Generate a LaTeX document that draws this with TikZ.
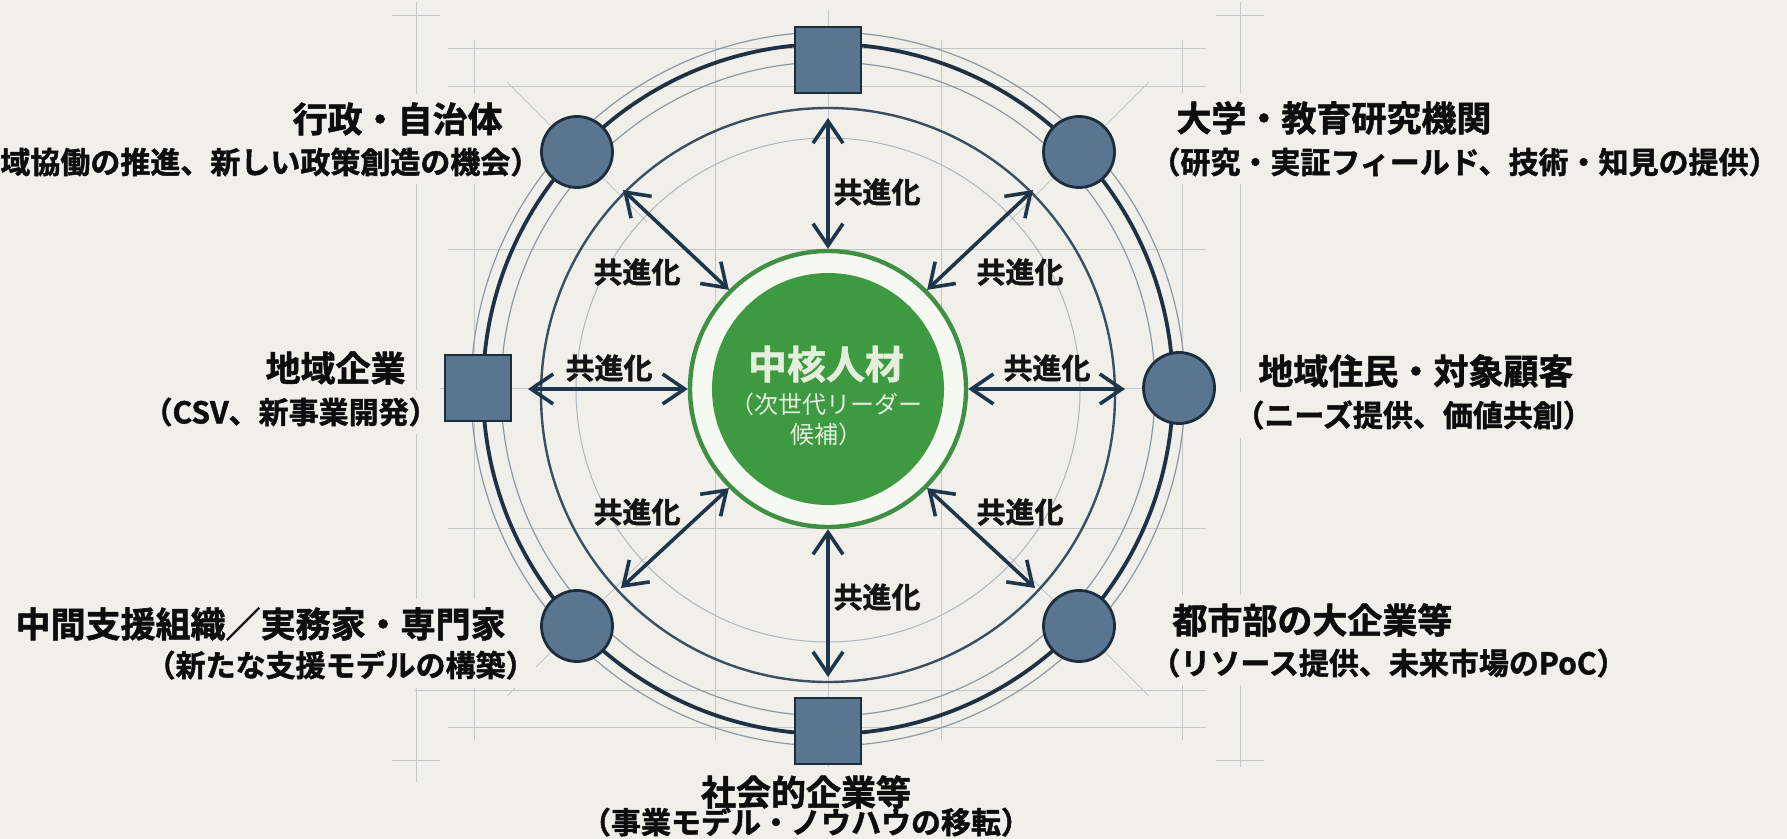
\documentclass[tikz,border=0pt]{standalone}
\usepackage{fontspec}
\setmainfont{Noto Sans CJK JP}[BoldFont={Noto Sans CJK JP Bold}, BoldFeatures={FakeBold=1.5}]
\usetikzlibrary{arrows.meta}
\definecolor{bg}{HTML}{F0EFE9}
\definecolor{gridc}{HTML}{C4C7C8}
\definecolor{ringthin}{HTML}{8C99A4}
\definecolor{ringlight}{HTML}{AEB6BC}
\definecolor{navy}{HTML}{1F3245}
\definecolor{ringdark}{HTML}{3A4F63}
\definecolor{nodefill}{HTML}{5A7590}
\definecolor{nodeedge}{HTML}{1C2D3D}
\definecolor{arrowc}{HTML}{1E364C}
\definecolor{greenfill}{HTML}{3E9A41}
\definecolor{greenring}{HTML}{3F8F45}
\definecolor{corering}{HTML}{F6F8F2}
\definecolor{coretext}{HTML}{E4EEDD}
\tikzset{
  gridline/.style={draw=gridc, line width=0.5pt},
  thinring/.style={draw=ringthin, line width=0.6pt},
  sqnode/.style={rectangle, draw=nodeedge, fill=nodefill, line width=1.4pt, minimum size=33pt, inner sep=0pt},
  cnode/.style={circle, draw=nodeedge, fill=nodefill, line width=1.4pt, minimum size=35.5pt, inner sep=0pt},
  coev/.style={draw=arrowc, line width=1.8pt, {Straight Barb[length=11pt,width=15pt]}-{Straight Barb[length=11pt,width=15pt]}},
  coevlbl/.style={font=\bfseries\fontsize{14.5}{17}\selectfont, text=black!92, inner sep=0pt},
  ttl/.style={font=\bfseries\fontsize{17.5}{21}\selectfont, text=black!95, fill=bg, inner xsep=2pt, inner ysep=4pt},
  subl/.style={font=\bfseries\fontsize{15}{18}\selectfont, text=black!95, fill=bg, inner xsep=0pt, inner ysep=4pt},
}
\begin{document}
\begin{tikzpicture}[x=0.5pt,y=-0.5pt]
\fill[bg] (0,0) rectangle (1787,839);
\useasboundingbox (0,0) rectangle (1787,839);

% construction grid
\draw[gridline] (416,2) -- (416,782);
\draw[gridline] (1240,2) -- (1240,767);
\draw[gridline] (474,40) -- (474,740);
\draw[gridline] (1182,40) -- (1182,740);
\draw[gridline] (715,40) -- (715,740);
\draw[gridline] (941,40) -- (941,740);
\draw[gridline] (828,10) -- (828,770);
\draw[gridline] (448,49) -- (1206,49);
\draw[gridline] (448,87) -- (1206,87);
\draw[gridline] (448,250) -- (1206,250);
\draw[gridline] (448,528) -- (1206,528);
\draw[gridline] (440,389) -- (1215,389);
\draw[gridline] (415,690) -- (1206,690);
\draw[gridline] (448,727) -- (1206,727);
\draw[gridline] (392,16) -- (440,16);
\draw[gridline] (1216,16) -- (1264,16);
\draw[gridline] (392,760) -- (440,760);
\draw[gridline] (1216,760) -- (1264,760);
\draw[gridline] (507,82) -- (647,222);
\draw[gridline] (1149,82) -- (1009,222);
\draw[gridline] (507,696) -- (647,556);
\draw[gridline] (1149,696) -- (1009,556);

% labels (with background to break grid lines)
\node[ttl, anchor=east] (t1) at (507,119) {行政・自治体};
\node[subl, anchor=west] (s1) at (0,162) {域協働の推進、新しい政策創造の機会）};
\node[ttl, anchor=west] (t2) at (1172,118) {大学・教育研究機関};
\node[subl, anchor=west] (s2) at (1150,162) {（研究・実証フィールド、技術・知見の提供）};
\node[ttl, anchor=east] (t3) at (410,368) {地域企業};
\node[subl, anchor=east] (s3) at (439,412) {（CSV、新事業開発）};
\node[ttl, anchor=west] (t4) at (1254,371) {地域住民・対象顧客};
\node[subl, anchor=west] (s4) at (1234,415) {（ニーズ提供、価値共創）};
\node[ttl, anchor=east] (t5) at (510,624) {中間支援組織／実務家・専門家};
\node[subl, anchor=east] (s5) at (536,665) {（新たな支援モデルの構築）};
\node[ttl, anchor=west] (t6) at (1168,620) {都市部の大企業等};
\node[subl, anchor=west] (s6) at (1150,663) {（リソース提供、未来市場のPoC）};
\node[ttl] (t7) at (806,792) {社会的企業等};
\node[subl, fill=none] (s7) at (806,822) {（事業モデル・ノウハウの移転）};

% rings
\draw[thinring] (828,389) circle[radius=357];
\draw[thinring] (828,389) circle[radius=327];
\draw[draw=navy, line width=1.9pt] (828,389) circle[radius=345];
\draw[draw=ringdark, line width=1.2pt] (828,395) circle[radius=287];
\draw[draw=ringlight, line width=0.5pt] (828,390) circle[radius=252];

% arrow end points on the inner ring
\coordinate (eT) at (828,118);
\coordinate (eB) at (828,677);
\coordinate (eL) at (528,389);
\coordinate (eR) at (1125,389);
\coordinate (eUL) at (623,190);
\coordinate (eUR) at (1033,190);
\coordinate (eLL) at (621,588);
\coordinate (eLR) at (1035,588);

% core
\node[circle, draw=greenring, fill=corering, line width=2.2pt, minimum size=138pt, inner sep=0pt] (core) at (828,389) {};
\node[circle, fill=greenfill, minimum size=116pt, inner sep=0pt] (corefill) at (828,389) {};
\node[text=coretext, align=center, font=\fontsize{12}{15}\selectfont, inner sep=0pt] (coretxt) at (826,396)
  {{\bfseries\fontsize{19.5}{22}\selectfont 中核人材}\\[2.5pt]（次世代リーダー\\候補）};

\draw[coev] (core.north) -- (eT);
\draw[coev] (core.south) -- (eB);
\draw[coev] (core.west) -- (eL);
\draw[coev] (core.east) -- (eR);
\draw[coev] (core.north west) -- (eUL);
\draw[coev] (core.north east) -- (eUR);
\draw[coev] (core.south west) -- (eLL);
\draw[coev] (core.south east) -- (eLR);

\node[coevlbl] (cT) at (877,192) {共進化};
\node[coevlbl] (cB) at (877,597) {共進化};
\node[coevlbl] (cL) at (609,368) {共進化};
\node[coevlbl] (cR) at (1047,368) {共進化};
\node[coevlbl] (cUL) at (637,272) {共進化};
\node[coevlbl] (cUR) at (1020,272) {共進化};
\node[coevlbl] (cLL) at (637,512) {共進化};
\node[coevlbl] (cLR) at (1020,512) {共進化};

% stakeholder nodes
\node[sqnode] (nTop) at (828,60) {};
\node[sqnode] (nBot) at (828,731) {};
\node[sqnode] (nL) at (478,388) {};
\node[cnode] (nR) at (1179,388) {};
\node[cnode] (nUL) at (577,152) {};
\node[cnode] (nUR) at (1079,152) {};
\node[cnode] (nLL) at (577,626) {};
\node[cnode] (nLR) at (1079,626) {};
\end{tikzpicture}
\end{document}
